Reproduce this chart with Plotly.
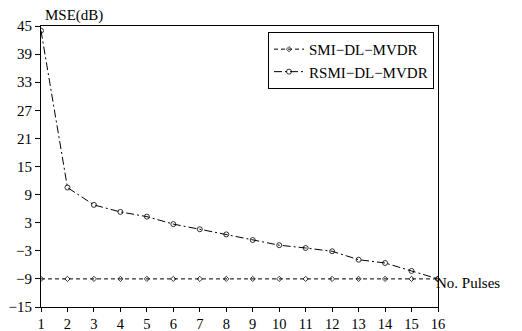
import plotly.graph_objects as go

pulses = list(range(1, 17))
smi_dl_mvdr = [-9.0] * 16
rsmi_dl_mvdr = [44.0, 10.5, 6.8, 5.3, 4.3, 2.7, 1.6, 0.5, -0.7, -1.8, -2.4, -3.1, -4.9, -5.6, -7.3, -9.0]
y_ticks = [45, 39, 33, 27, 21, 15, 9, 3, -3, -9, -15]

font = dict(family="Liberation Serif, Times New Roman, serif", size=15, color="black")

fig = go.Figure()
fig.add_trace(go.Scatter(
    x=pulses, y=smi_dl_mvdr, name="SMI\u2212DL\u2212MVDR", mode="lines+markers",
    line=dict(color="black", width=1, dash="4px,3px"),
    marker=dict(symbol="diamond-open", size=4, color="black", line=dict(width=0.8)),
))
fig.add_trace(go.Scatter(
    x=pulses, y=rsmi_dl_mvdr, name="RSMI\u2212DL\u2212MVDR", mode="lines+markers",
    line=dict(color="black", width=1, dash="8px,3px,2px,3px"),
    marker=dict(symbol="circle-open", size=5, color="black", line=dict(width=0.8)),
))

# page body has an 8px margin, so the figure is drawn 8px smaller
fig.update_layout(
    template="none",
    width=514, height=323,
    margin=dict(l=33, r=84, t=18, b=24, autoexpand=False),
    paper_bgcolor="white", plot_bgcolor="white",
    font=font,
    showlegend=True,
    legend=dict(
        x=0.99, y=0.979, xanchor="right", yanchor="top",
        bordercolor="black", borderwidth=1, bgcolor="white",
        font=font, tracegroupgap=0, itemwidth=30,
    ),
    xaxis=dict(
        range=[1, 16], tickmode="array", tickvals=pulses,
        ticks="outside", ticklen=4, tickcolor="black",
        showline=True, linecolor="black", linewidth=1, mirror=True,
        showgrid=False, zeroline=False, tickfont=dict(font, size=14.5),
        automargin=False,
    ),
    yaxis=dict(
        range=[-15, 45], tickmode="array", tickvals=y_ticks,
        ticktext=[str(v).replace("-", "\u2212") for v in y_ticks],
        ticks="outside", ticklen=5, tickcolor="black",
        showline=True, linecolor="black", linewidth=1, mirror=True,
        showgrid=False, zeroline=False, tickfont=font, automargin=False,
    ),
    annotations=[
        dict(text="MSE(dB)", xref="paper", yref="paper", x=0.005, y=1.0,
             xanchor="left", yanchor="bottom", showarrow=False, font=font, yshift=0),
        dict(text="No. Pulses", xref="paper", yref="y", x=1.0, y=-9,
             xanchor="left", yanchor="top", showarrow=False, font=font, yshift=6, xshift=-4),
    ],
)

fig.write_html("out.html")
